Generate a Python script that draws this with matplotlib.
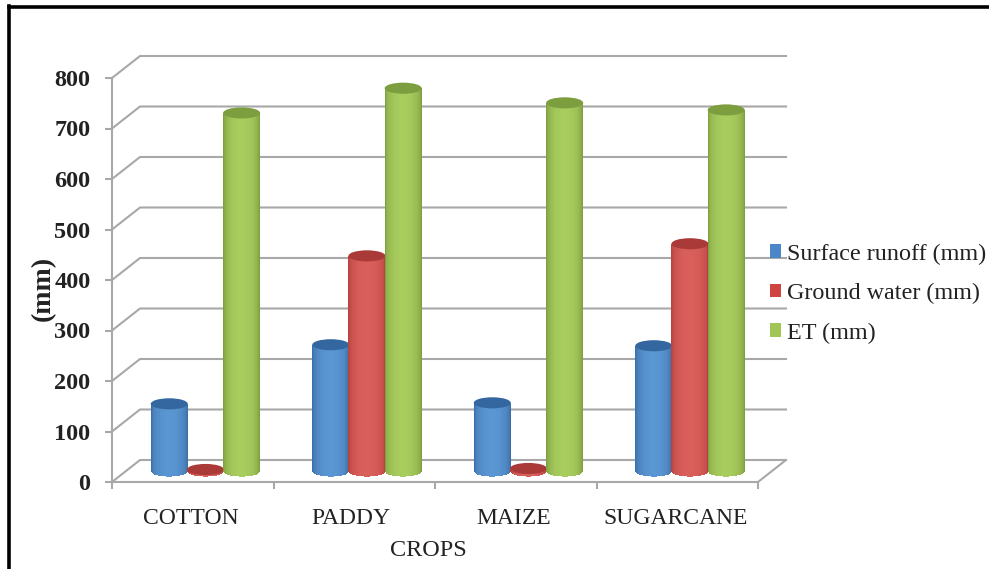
import numpy as np
import matplotlib
matplotlib.use("Agg")
from matplotlib import pyplot as plt
from matplotlib.lines import Line2D
from matplotlib.patches import Ellipse, Patch

crops = ["COTTON", "PADDY", "MAIZE", "SUGARCANE"]
surface_runoff = [133, 250, 135, 248]
ground_water = [3, 426, 5, 450]
et = [709, 758, 729, 715]
yticks = [0, 100, 200, 300, 400, 500, 600, 700, 800]
series_names = ["Surface runoff (mm)", "Ground water (mm)", "ET (mm)"]

# edge, centre, cap colours of each cylinder
colors = [("#2f5f98", "#5a96d2", "#34679f"),
          ("#a83533", "#d95f5b", "#aa3a38"),
          ("#6c8c33", "#a8cd5e", "#7d9e3e")]
legend_colors = ["#4a86c8", "#cf4440", "#a2c655"]

W, H = 989, 569
plt.rcParams["font.family"] = ["Liberation Serif", "DejaVu Serif"]
fig = plt.figure(figsize=(W / 100, H / 100), dpi=100)
ax = fig.add_axes([112 / W, (H - 482) / H, 646 / W, 404 / H])
ax.patch.set_visible(False)

# depth of the fake 3d box, in data units
dx = 28 / 161.5
dy = 22 / 0.505
grid = "#a8a8a8"

for v in yticks:
    ax.plot([0, dx, 4 + dx], [v, v + dy, v + dy], color=grid, lw=1.5, clip_on=False, zorder=1)
ax.plot([4, 4 + dx], [0, dy], color=grid, lw=1.5, clip_on=False, zorder=1)


def cylinder(x, value, cols, z):
    w = 37 / 161.5
    cap_h = 22
    n = 40
    base = dy / 2
    edges = np.linspace(-1, 1, n + 1)
    mids = (edges[:-1] + edges[1:]) / 2
    for t in mids:
        # light in the middle, darker at both sides
        s = np.sqrt(1 - t ** 2) ** 0.8
        c = np.array(matplotlib.colors.to_rgb(cols[0])) * (1 - s) + np.array(matplotlib.colors.to_rgb(cols[1])) * s
        low = base - cap_h / 2 * np.sqrt(1 - t ** 2)
        ax.bar(x + t * w / 2, base + value - low, w / n * 1.15, bottom=low, color=c, lw=0, clip_on=False, zorder=z)
    ax.add_patch(Ellipse((x, base + value), w, cap_h, color=cols[2], lw=0, clip_on=False, zorder=z + 0.1))


all_series = [surface_runoff, ground_water, et]
bar_step = 36.2 / 161.5
for i in range(len(crops)):
    for j in range(3):
        x = i + 0.5 + dx / 2 - 0.008 + (j - 1) * bar_step
        cylinder(x, all_series[j][i], colors[j], 3 + j)

ax.set_xlim(0, 4)
ax.set_ylim(0, 800)
for side in ["top", "right"]:
    ax.spines[side].set_visible(False)
for side in ["left", "bottom"]:
    ax.spines[side].set_color(grid)
    ax.spines[side].set_linewidth(1.5)

ax.set_yticks(yticks)
ax.set_yticklabels([str(v) for v in yticks], fontsize=17.5, fontweight="bold", color="#222222")
ax.set_xticks([0, 1, 2, 3, 4])
ax.set_xticklabels([])
ax.set_xticks([0.49, 1.48, 2.49, 3.49], minor=True)
ax.set_xticklabels(crops, minor=True, fontsize=17, color="#222222")
ax.tick_params(axis="y", length=5, width=1.5, color=grid, pad=10.5)
ax.tick_params(axis="x", which="major", length=5, width=1.5, color=grid)
ax.tick_params(axis="x", which="minor", length=0, pad=19)

ax.set_xlabel("CROPS", fontsize=17.5, color="#222222")
ax.xaxis.set_label_coords(0.489, -0.17)
ax.xaxis.label.set_verticalalignment("center")
ax.set_ylabel("(mm)", fontsize=20, fontweight="bold", color="#222222")
ax.yaxis.set_label_coords(-0.107, 0.48)
ax.yaxis.label.set_verticalalignment("center")

handles = [Patch(color=c, lw=0) for c in legend_colors]
fig.legend(handles, series_names, loc="center left", bbox_to_anchor=(770 / W, (H - 293.5) / H),
           frameon=False, fontsize=17.4, handlelength=0.46, handleheight=0.46, handletextpad=0.25,
           labelspacing=0.76, labelcolor="#222222", borderpad=0, borderaxespad=0)

# black frame of the picture, only top and left are visible
fig.add_artist(Line2D([8.5 / W, 1], [1 - 7 / H, 1 - 7 / H], color="black", lw=2.6))
fig.add_artist(Line2D([8.5 / W, 8.5 / W], [0, 1 - 6 / H], color="black", lw=2.6))

fig.savefig("out.png", dpi=100)
